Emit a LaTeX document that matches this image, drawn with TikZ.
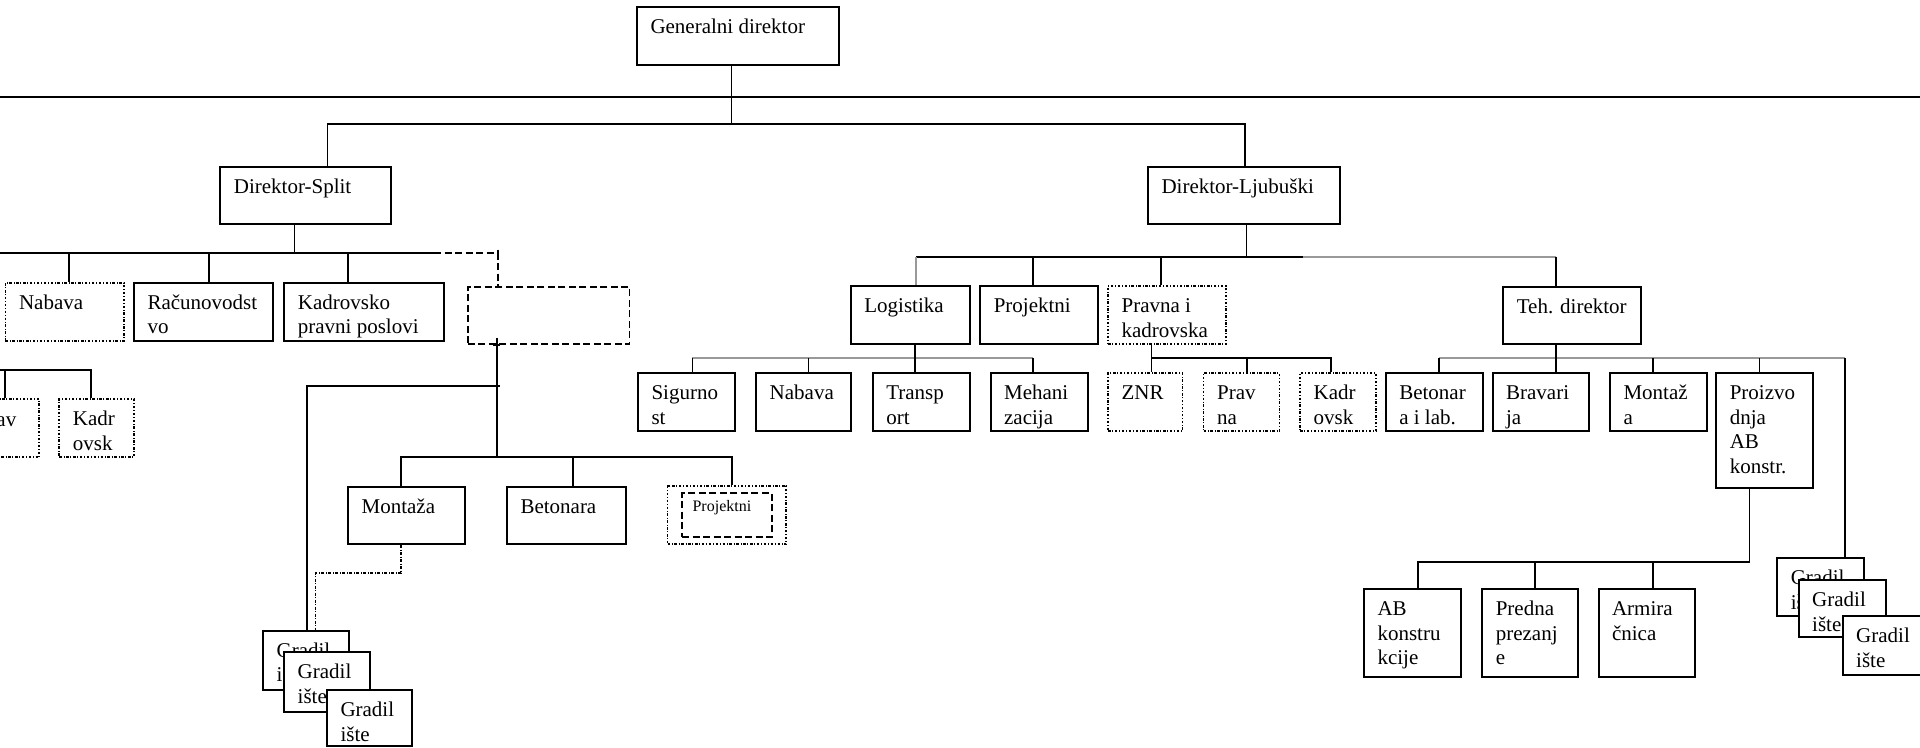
\documentclass[tikz,border=0pt]{standalone}
\usepackage{fontspec}
\setmainfont{Liberation Serif}
\usetikzlibrary{fit}
\newcommand{\txtfont}{\fontsize{8.4}{9.8}\selectfont}
\newcommand{\tstrut}{\rule{0pt}{7.5pt}}
\tikzset{
  solidbox/.style={draw, line width=0.8pt, fill=white, inner sep=0pt},
  dotbox/.style={draw, line width=0.7pt, fill=white, inner sep=0pt, dash pattern=on 1pt off 0.7pt on 0.35pt off 0.7pt},
  dashbox/.style={draw, line width=0.7pt, fill=white, inner sep=0pt, dash pattern=on 2.8pt off 1.4pt},
  boxtext/.style={anchor=north west, inner sep=0pt, align=left, font=\txtfont},
  conn/.style={line width=0.7pt},
  grayconn/.style={line width=0.8pt, draw=black!40},
  dashconn/.style={line width=0.7pt, dash pattern=on 2.8pt off 1.4pt},
  dotconn/.style={line width=0.7pt, dash pattern=on 1.2pt off 0.6pt on 0.4pt off 0.6pt},
}
\newcommand{\orgbox}[7]{%
  \node[#2, fit={(#3,#4) (#5,#6)}] (#1) {};
  \node[boxtext] (#1-t) at ([xshift=5.6pt,yshift=-3.3pt]#1.north west) {\tstrut#7};
}
\begin{document}
\begin{tikzpicture}[x=0.4pt, y=-0.4pt]
\useasboundingbox (0,0) rectangle (1920,747);
\clip (0,0) rectangle (1920,747);

% ---- boxes ----
\orgbox{gd}{solidbox}{637}{7}{839}{65}{Generalni direktor}
\orgbox{split}{solidbox}{220.4}{166.7}{390.6}{224.3}{Direktor-Split}
\orgbox{ljub}{solidbox}{1148}{166.7}{1339.6}{224.3}{Direktor-Ljubuški}

\orgbox{nabS}{dotbox}{5.4}{282.7}{124}{340.7}{Nabava}
\orgbox{racun}{solidbox}{134}{282.7}{273}{340.7}{Računovodst\\vo}
\orgbox{kadrS}{solidbox}{284.4}{282.7}{444.2}{340.7}{Kadrovsko\\pravni poslovi}
\node[dashbox, fit={(467.8,286.7) (629.5,344.3)}] (dbox) {};

\node[dotbox, fit={(-40,399.3) (39.3,457.3)}] (nabL) {};
\node[anchor=base west, inner sep=0pt, font=\txtfont] (nabL-t) at (-4,426.3) {av};
\orgbox{kadrL}{dotbox}{59.3}{399.3}{134}{457.3}{Kadr\\ovsk}

\orgbox{mont}{solidbox}{348.1}{486.7}{464.8}{544}{Montaža}
\orgbox{beton}{solidbox}{507}{486.7}{625.6}{544}{Betonara}
\node[dotbox, fit={(667.6,486) (786.3,544.3)}] (projO) {};
\node[dashbox, fit={(682.2,493.3) (771.8,537.3)}] (projI) {};
\node[anchor=base west, inner sep=0pt, font=\fontsize{6.4}{7.5}\selectfont] (projI-t) at ([xshift=4.3pt,yshift=-7.5pt]projI.north west) {Projektni};

\orgbox{gL1}{solidbox}{263.1}{630.7}{348.5}{690}{Gradil\\ište}
\orgbox{gL2}{solidbox}{284.2}{652.3}{369.5}{711.7}{Gradil\\ište}
\orgbox{gL3}{solidbox}{327}{690}{412.4}{746}{Gradil\\ište}

\orgbox{logi}{solidbox}{850.9}{286}{969.6}{344.3}{Logistika}
\orgbox{projL}{solidbox}{980.3}{286}{1097.7}{344.3}{Projektni}
\orgbox{pravna}{dotbox}{1108}{286}{1225.9}{344.3}{Pravna i\\kadrovska}
\orgbox{teh}{solidbox}{1503.3}{286.7}{1641}{344.3}{Teh. direktor}

\orgbox{sig}{solidbox}{638}{373.3}{735.3}{431}{Sigurno\\st}
\orgbox{nabLj}{solidbox}{756.2}{373.3}{851.3}{431}{Nabava}
\orgbox{trans}{solidbox}{872.8}{373.3}{969.6}{431}{Transp\\ort}
\orgbox{meh}{solidbox}{990.6}{373.3}{1087.5}{431}{Mehani\\zacija}

\orgbox{znr}{dotbox}{1108}{373.3}{1182.6}{431}{ZNR}
\orgbox{prav}{dotbox}{1203.5}{373.3}{1279.4}{431}{Prav\\na}
\orgbox{kadrP}{dotbox}{1300}{373.3}{1375.9}{431}{Kadr\\ovsk}

\orgbox{betR}{solidbox}{1385.8}{373.3}{1482.7}{431}{Betonar\\a i lab.}
\orgbox{brav}{solidbox}{1492.6}{373.3}{1588.6}{431}{Bravari\\ja}
\orgbox{montR}{solidbox}{1610}{373.3}{1707.3}{431}{Montaž\\a}
\orgbox{proiz}{solidbox}{1716.3}{373.3}{1813.2}{488.3}{Proizvo\\dnja\\AB\\konstr.}

\orgbox{ab}{solidbox}{1364}{589.3}{1461.3}{676.7}{AB\\konstru\\kcije}
\orgbox{pred}{solidbox}{1482.3}{589.3}{1577.6}{676.7}{Predna\\prezanj\\e}
\orgbox{arm}{solidbox}{1598.5}{589.3}{1695.4}{676.7}{Armira\\čnica}

\orgbox{gR1}{solidbox}{1777.3}{558.3}{1864.3}{616}{Gradil\\ište}
\orgbox{gR2}{solidbox}{1798.7}{580}{1885.7}{637.3}{Gradil\\ište}
\orgbox{gR3}{solidbox}{1842.7}{616}{1935}{675}{Gradil\\ište}

% ---- free line across the page ----
\coordinate (hl) at (0,96.7);
\coordinate (hr) at (1920,96.7);
\draw[line width=0.8pt] (hl) -- (hr);

% ---- top level ----
\coordinate (topbus) at (731.6,124);
\draw[conn] (731.6,0 |- gd.south) -- (topbus);
\draw[conn] (327.6,0 |- split.north) |- (topbus) -| (1244.7,0 |- ljub.north);

% ---- Split ----
\coordinate (sbusL) at (0,253.3);
\coordinate (sbusR) at (434,253.3);
\coordinate (sdash) at (497.8,253.3);
\draw[conn] (294.5,0 |- split.south) -- (294.5,253.3);
\draw[conn] (sbusL) -- (sbusR);
\draw[dashconn] (sbusR) -- (sdash) -- (497.8,0 |- dbox.north);
\draw[conn] (497.8,249.5) -- (497.8,257);
\draw[conn] (69.2,253.3) -- (69.2,0 |- nabS.north);
\draw[conn] (208.9,253.3) -- (208.9,0 |- racun.north);
\draw[conn] (348.2,253.3) -- (348.2,0 |- kadrS.north);

\coordinate (lbusL) at (0,370);
\draw[conn] (lbusL) -- (91,370) -- (91,0 |- kadrL.north);
\draw[conn] (5,370) -- (5,0 |- nabL.north);

\draw[conn] (496.9,338) -- (496.9,456.7);
\draw[conn] (493,0 |- dbox.south) -- (500,0 |- dbox.south);
\draw[conn] (500,385.7) -- (307,385.7) -- (307,0 |- gL1.north);
\draw[conn] (400.9,0 |- mont.north) |- (732,456.7) -- (732,0 |- projO.north);
\draw[conn] (573.1,456.7) -- (573.1,0 |- beton.north);
\draw[dotconn] (400.9,0 |- mont.south) -- (400.9,573.3) -- (315.6,573.3) -- (315.6,0 |- gL1.north);

% ---- Ljubuski ----
\coordinate (lj1) at (1246.6,256.7);
\draw[conn] (1246.6,0 |- ljub.south) -- (lj1);
\draw[conn] (916,256.7) -- (1303,256.7);
\draw[grayconn] (1303,256.7) -- (1556.2,256.7);
\draw[grayconn] (916,256.7) -- (916,0 |- logi.north);
\draw[conn] (1033.3,256.7) -- (1033.3,0 |- projL.north);
\draw[conn] (1161,256.7) -- (1161,0 |- pravna.north);
\draw[conn] (1556.2,256.7) -- (1556.2,0 |- teh.north);

% Logistika
\draw[grayconn] (692.4,358) -- (1033.3,358);
\draw[conn] (915.3,0 |- logi.south) -- (915.3,0 |- trans.north);
\draw[conn] (692.4,358) -- (692.4,0 |- sig.north);
\draw[conn] (808.5,358) -- (808.5,0 |- nabLj.north);
\draw[conn] (1033.3,358) -- (1033.3,0 |- meh.north);

% Pravna
\draw[conn] (1151.5,0 |- pravna.south) -- (1151.5,0 |- znr.north);
\draw[conn] (1151.5,358.3) -- (1331,358.3) -- (1331,0 |- kadrP.north);
\draw[conn] (1246.7,358.3) -- (1246.7,0 |- prav.north);

% Teh
\draw[grayconn] (1439.2,358.3) -- (1845,358.3);
\draw[conn] (1556.2,0 |- teh.south) -- (1556.2,0 |- brav.north);
\draw[conn] (1439.2,358.3) -- (1439.2,0 |- betR.north);
\draw[conn] (1652.7,358.3) -- (1652.7,0 |- montR.north);
\draw[conn] (1759.5,358.3) -- (1759.5,0 |- proiz.north);
\draw[conn] (1845,358.3) -- (1845,0 |- gR1.north);

% Proizvodnja
\draw[conn] (1749.6,0 |- proiz.south) -- (1749.6,561.7) -- (1417.8,561.7) -- (1417.8,0 |- ab.north);
\draw[conn] (1534.9,561.7) -- (1534.9,0 |- pred.north);
\draw[conn] (1652.7,561.7) -- (1652.7,0 |- arm.north);
\end{tikzpicture}
\end{document}
